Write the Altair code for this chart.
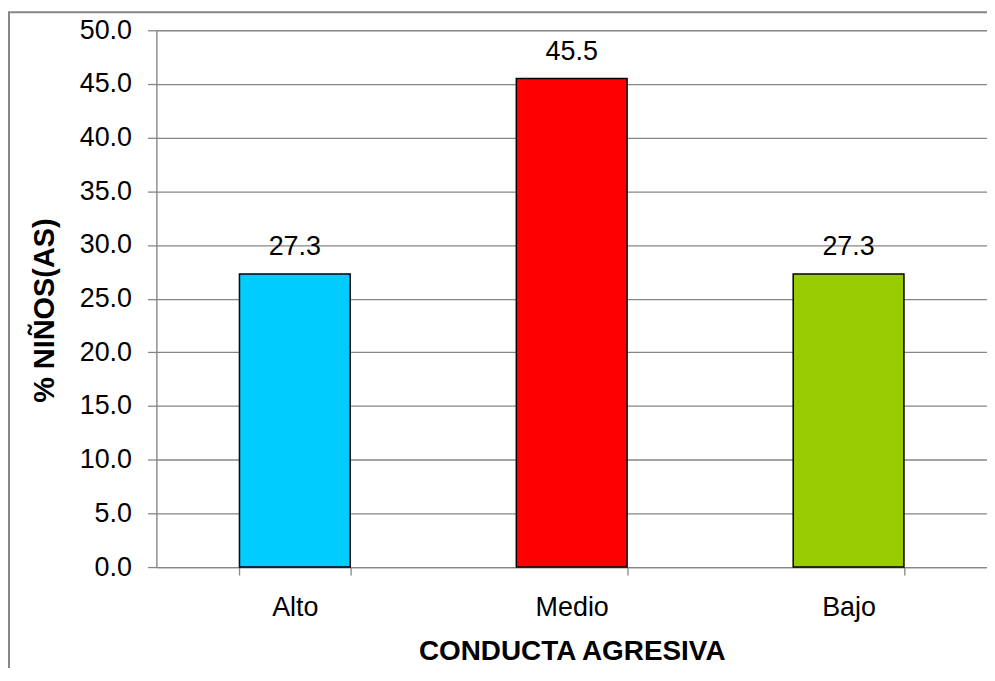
import altair as alt
import pandas as pd

categories = ["Alto", "Medio", "Bajo"]
values = [27.3, 45.5, 27.3]
colors = ["#00CCFF", "#FF0000", "#99CC00"]
y_ticks = [0, 5, 10, 15, 20, 25, 30, 35, 40, 45, 50]

df = pd.DataFrame({"cat": categories, "val": values, "color": colors})

FONT = "Liberation Sans"
GRAY = "#868686"
W, H = 834, 539
LBL = 27
TTL = 28

x = alt.X("cat:N", sort=categories,
          scale=alt.Scale(paddingInner=0.6, paddingOuter=0.3),
          axis=alt.Axis(title="CONDUCTA AGRESIVA", labelAngle=0, tickBand="extent",
                        tickSize=8, labelPadding=20, grid=False,
                        titleY=71, titleBaseline="top",
                        domainColor=GRAY, tickColor=GRAY, domainWidth=1.3, tickWidth=1.3,
                        labelFontSize=LBL, titleFontSize=TTL, labelFont=FONT, titleFont=FONT,
                        titleFontWeight="bold", labelColor="black", titleColor="black"))
y = alt.Y("val:Q", scale=alt.Scale(domain=[0, 50], nice=False),
          axis=alt.Axis(title="% NIÑOS(AS)", values=y_ticks, format=".1f",
                        tickSize=9, labelPadding=16,
                        titleX=-112, titleY=281, titleBaseline="middle",
                        domainColor=GRAY, tickColor=GRAY, gridColor=GRAY,
                        domainWidth=1.3, tickWidth=1.3, gridWidth=1.3,
                        gridOpacity=1, labelFontSize=LBL, titleFontSize=29,
                        labelFont=FONT, titleFont=FONT, titleFontWeight="bold",
                        labelColor="black", titleColor="black"))

bars = alt.Chart(df).mark_bar(stroke="black", strokeWidth=1.5).encode(
    x=x, y=y, color=alt.Color("color:N", scale=None))
labels = alt.Chart(df).mark_text(dy=-19, baseline="alphabetic", fontSize=LBL,
                                 font=FONT, color="black").encode(
    x=alt.X("cat:N", sort=categories), y="val:Q", text=alt.Text("val:Q", format=".1f"))

border = alt.Chart(pd.DataFrame({"a": [0]})).mark_rect(
    fill=None, stroke=GRAY, strokeWidth=2).encode(
    x=alt.value(-148), x2=alt.value(W + 30), y=alt.value(-18), y2=alt.value(H + 140))

chart = alt.layer(border, bars, labels).properties(
    width=W, height=H,
    autosize=alt.AutoSizeParams(type="none"),
    padding={"left": 149, "top": 21, "right": 0, "bottom": 100},
).configure_view(stroke=None).configure(background="white")

chart.save("out.html", embed_options={"renderer": "svg", "actions": False})
